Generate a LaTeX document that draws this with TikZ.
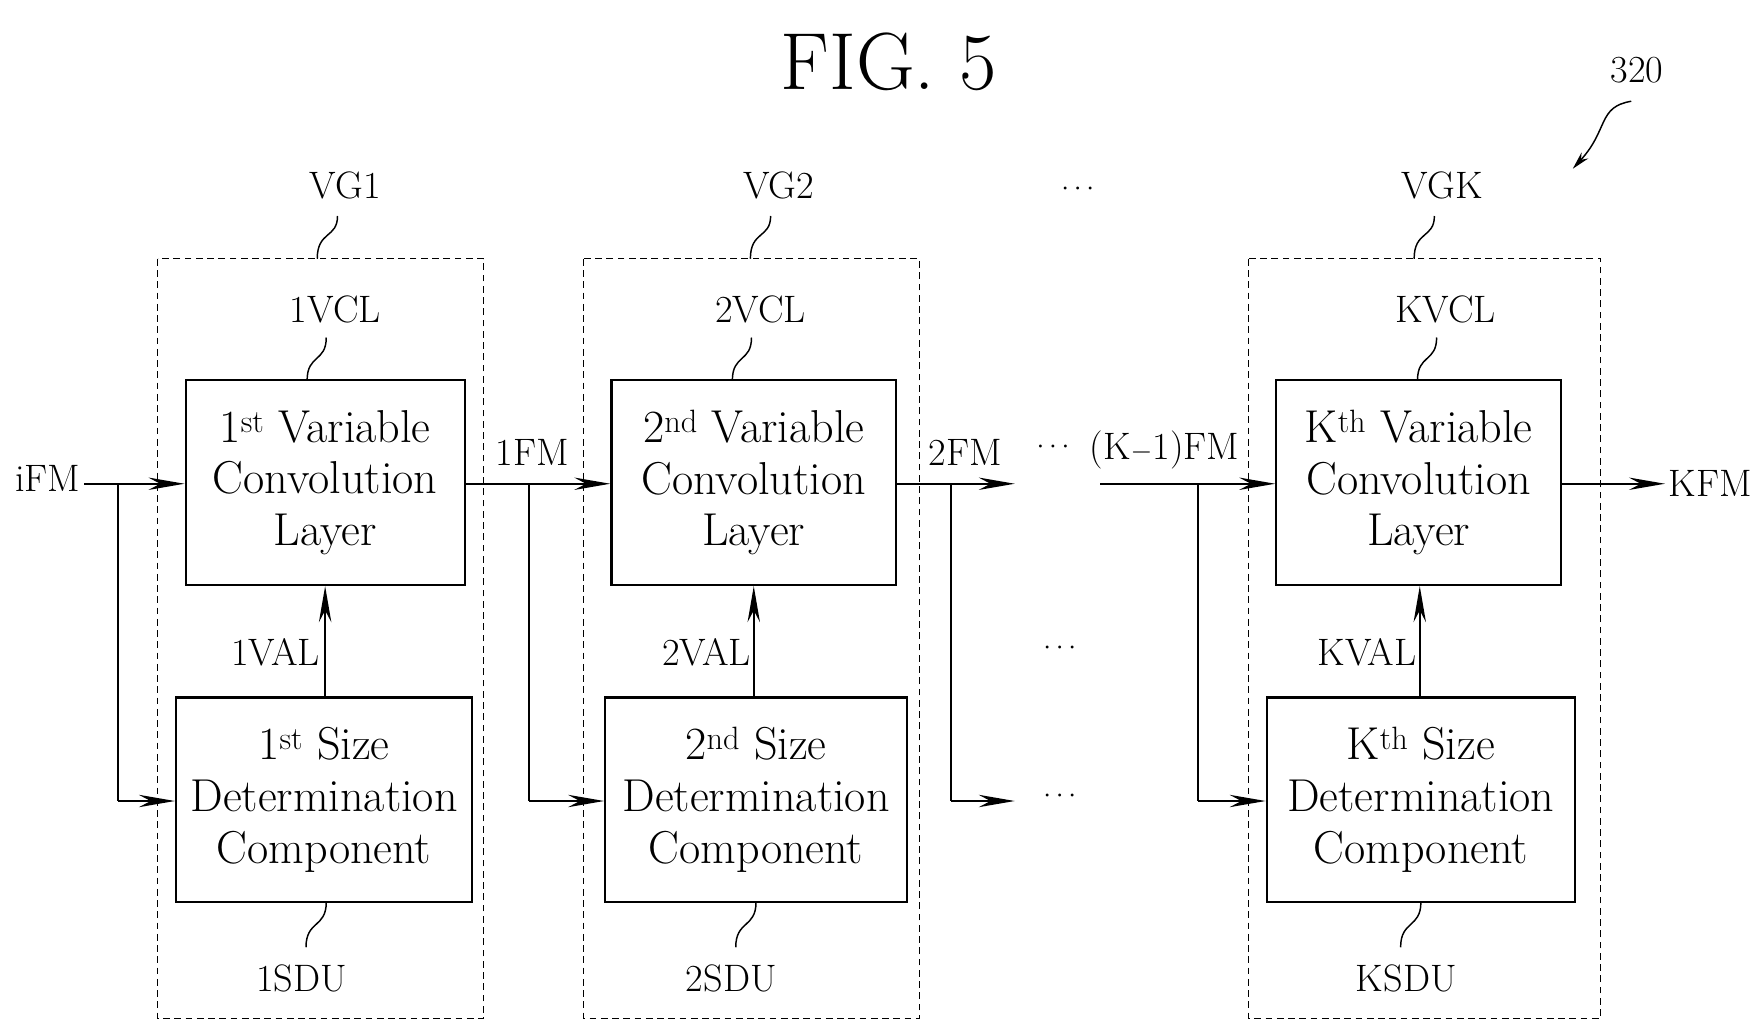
\documentclass[tikz,border=0pt]{standalone}
\usetikzlibrary{arrows.meta}
\begin{document}
\begin{tikzpicture}[x=1pt,y=-1pt,
  box/.style={draw,line width=2pt,align=center,inner sep=0pt,font=\fontsize{41}{46}\selectfont},
  grp/.style={draw,dashed,line width=1pt,dash pattern=on 6pt off 4pt},
  lbl/.style={font=\fontsize{34}{36}\selectfont},
  arr/.style={line width=2pt,-{Stealth[length=32pt,width=11pt]}},
  ln/.style={line width=2pt},
  sq/.style={line width=1.3pt}]
\useasboundingbox (0,0) rectangle (1560,920);
\node[font=\fontsize{72}{74}\selectfont] (title) at (790,55) {FIG. 5};
\node[lbl] (n320) at (1455,62) {320};
\coordinate (a320) at (1398,150);
\draw[sq,-{Stealth[length=16pt,width=8pt]}] (1450,90) .. controls (1420,95) and (1430,115) .. (a320);
% groups
\foreach \n/\xa/\xb in {1/140/430,2/519/817,K/1110/1423}{
  \draw[grp] (\xa,230) rectangle (\xb,905);
}
\node[lbl] (vg1) at (307,165) {VG1};
\node[lbl] (vg2) at (692,165) {VG2};
\node[lbl] (vgk) at (1282,165) {VGK};
\node[lbl] (dtop) at (958,168) {$\cdots$};
\draw[sq] (300,192) .. controls (300,212) and (282,205) .. (282,230);
\draw[sq] (685,192) .. controls (685,212) and (667,205) .. (667,230);
\draw[sq] (1275,192) .. controls (1275,212) and (1257,205) .. (1257,230);
% VCL boxes
\node[box,minimum width=248pt,minimum height=182pt] (v1) at (289,429) {1\textsuperscript{st} Variable\\Convolution\\Layer};
\node[box,minimum width=253pt,minimum height=182pt] (v2) at (670,429) {2\textsuperscript{nd} Variable\\Convolution\\Layer};
\node[box,minimum width=253pt,minimum height=182pt] (vk) at (1261,429) {K\textsuperscript{th} Variable\\Convolution\\Layer};
% SDU boxes
\node[box,minimum width=263pt,minimum height=182pt] (s1) at (288,711) {1\textsuperscript{st} Size\\Determination\\Component};
\node[box,minimum width=268pt,minimum height=182pt] (s2) at (672,711) {2\textsuperscript{nd} Size\\Determination\\Component};
\node[box,minimum width=274pt,minimum height=182pt] (sk) at (1263,711) {K\textsuperscript{th} Size\\Determination\\Component};
% labels above/below
\node[lbl] (l1) at (298,275) {1VCL};
\node[lbl] (l2) at (676,275) {2VCL};
\node[lbl] (lk) at (1285,275) {KVCL};
\draw[sq] (290,300) .. controls (290,322) and (273,315) .. (273,338);
\draw[sq] (668,300) .. controls (668,322) and (651,315) .. (651,338);
\draw[sq] (1277,300) .. controls (1277,322) and (1260,315) .. (1260,338);
\node[lbl] (u1) at (268,870) {1SDU};
\node[lbl] (u2) at (650,870) {2SDU};
\node[lbl] (uk) at (1250,870) {KSDU};
\draw[sq] (290,802) .. controls (290,825) and (272,818) .. (272,842);
\draw[sq] (672,802) .. controls (672,825) and (654,818) .. (654,842);
\draw[sq] (1263,802) .. controls (1263,825) and (1245,818) .. (1245,842);
% main flow
\node[lbl,anchor=east] (ifm) at (75,425) {iFM};
\draw[arr] (ifm.east |- 0,430) -- (v1.west |- 0,430);
\draw[ln] (105,430) -- (105,712);
\draw[arr] (105,712) -- (s1.west |- 0,712);
\node[lbl] (f1) at (473,402) {1FM};
\draw[arr] (v1.east |- 0,430) -- (v2.west |- 0,430);
\draw[ln] (470,430) -- (470,712);
\draw[arr] (470,712) -- (s2.west |- 0,712);
\node[lbl] (f2) at (858,402) {2FM};
\coordinate (e2) at (902,430);
\draw[arr] (v2.east |- 0,430) -- (e2);
\draw[ln] (845,430) -- (845,712);
\coordinate (e3) at (902,712);
\draw[arr] (845,712) -- (e3);
\node[lbl] (d3) at (942,708) {$\cdots$};
\node[lbl] (d2) at (942,576) {$\cdots$};
\node[lbl] (d1) at (936,398) {$\cdots$};
\node[lbl] (fk1) at (1035,400) {(K$-$1)FM};
\coordinate (sk1) at (978,430);
\draw[arr] (sk1) -- (vk.west |- 0,430);
\draw[ln] (1065,430) -- (1065,712);
\draw[arr] (1065,712) -- (sk.west |- 0,712);
\node[lbl,anchor=west] (kfm) at (1480,430) {KFM};
\draw[arr] (vk.east |- 0,430) -- (kfm.west);
% VAL
\draw[arr] (s1.north -| 289,0) -- (v1.south -| 289,0);
\draw[arr] (s2.north -| 670,0) -- (v2.south -| 670,0);
\draw[arr] (sk.north -| 1262,0) -- (vk.south -| 1262,0);
\node[lbl] (a1) at (245,580) {1VAL};
\node[lbl] (a2) at (628,580) {2VAL};
\node[lbl] (ak) at (1215,580) {KVAL};
\end{tikzpicture}
\end{document}
